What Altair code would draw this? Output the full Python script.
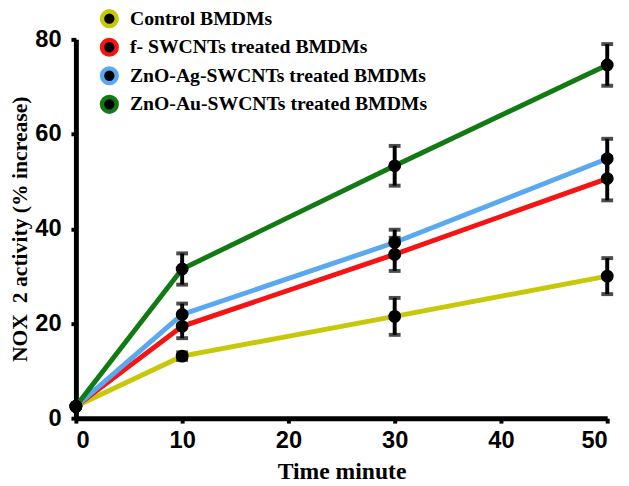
import altair as alt
import pandas as pd

series = ["Control BMDMs", " f- SWCNTs treated BMDMs", "ZnO-Ag-SWCNTs treated BMDMs", "ZnO-Au-SWCNTs treated BMDMs"]
colors = ["#c8c80a", "#f41414", "#5aa8f0", "#127a12"]
time = [0, 10, 30, 50]
control = [2.5, 13.1, 21.5, 30.0]
control_err = [0.0, 0.8, 3.9, 3.8]
f_swcnt = [2.5, 19.4, 34.6, 50.6]
f_swcnt_err = [0.0, 2.5, 3.5, 4.6]
ag_swcnt = [2.5, 21.9, 37.1, 54.8]
ag_swcnt_err = [0.0, 2.3, 2.7, 4.2]
au_swcnt = [2.5, 31.5, 53.3, 74.6]
au_swcnt_err = [0.0, 3.3, 4.2, 4.4]

rows = []
for name, vals, errs in zip(series, [control, f_swcnt, ag_swcnt, au_swcnt],
                            [control_err, f_swcnt_err, ag_swcnt_err, au_swcnt_err]):
    for t, v, e in zip(time, vals, errs):
        rows.append({"series": name, "series_dot": name, "time": t, "value": v,
                     "lo": v - e, "hi": v + e, "err": e})
df = pd.DataFrame(rows)

x = alt.X("time:Q", scale=alt.Scale(domain=[0, 50], nice=False),
          axis=alt.Axis(title="Time minute", values=[0, 10, 20, 30, 40, 50]))
y = alt.Y("value:Q", scale=alt.Scale(domain=[0, 80], nice=False),
          axis=alt.Axis(title="NOX\u00a0 2 activity (% increase)", values=[0, 20, 40, 60, 80]))

legend_common = dict(title=None, orient="none", legendY=-31, padding=0,
                     labelFont="Liberation Serif", labelFontWeight="bold",
                     labelFontSize=20, rowPadding=-5, labelLimit=500)

base = alt.Chart(df)

lines = base.mark_line(strokeWidth=5).encode(
    x=x, y=y,
    color=alt.Color("series:N", sort=series,
                    scale=alt.Scale(domain=series, range=colors),
                    legend=alt.Legend(legendX=24, symbolType="M-2,0H2", symbolSize=225,
                                      symbolStrokeWidth=4.5, labelColor="black", labelOffset=11,
                                      **legend_common)),
)

eb = base.transform_filter("datum.err > 0")
rules = eb.mark_rule(color="black", strokeWidth=4).encode(x="time:Q", y="lo:Q", y2="hi:Q")
cap_lo = eb.mark_tick(color="black", thickness=4, size=12, orient="horizontal").encode(x="time:Q", y="lo:Q")
cap_hi = eb.mark_tick(color="black", thickness=4, size=12, orient="horizontal").encode(x="time:Q", y="hi:Q")

points = base.mark_point(filled=True, size=170, color="black", opacity=1).encode(
    x=x, y=y,
    shape=alt.Shape("series_dot:N", sort=series,
                    scale=alt.Scale(domain=series, range=["circle"] * 4),
                    legend=alt.Legend(legendX=25, symbolSize=170, symbolFillColor="black",
                                      symbolStrokeColor="black", symbolOpacity=1,
                                      labelColor="transparent", labelOffset=11,
                                      **legend_common)),
)

chart = alt.layer(lines, rules, cap_lo, cap_hi, points).properties(
    width=540, height=385,
    padding={"left": 69, "top": 28, "right": 14, "bottom": 62},
    autosize=alt.AutoSizeParams(type="none"),
).configure_view(stroke=None).configure_axis(
    domainColor="black", domainWidth=5, tickColor="black", tickWidth=4, tickSize=5,
    grid=False, labelFont="Liberation Sans Narrow, Liberation Sans", labelFontWeight="bold",
    labelFontSize=24, labelColor="black", titleFont="Liberation Serif", titleFontWeight="bold",
    titleColor="black",
).configure_axisY(
    labelPadding=10, titleFontSize=22, titlePadding=4,
).configure_axisX(
    labelPadding=6, titleFontSize=24, titlePadding=7,
)

chart.save("out.html", embed_options={"renderer": "svg", "actions": False})
